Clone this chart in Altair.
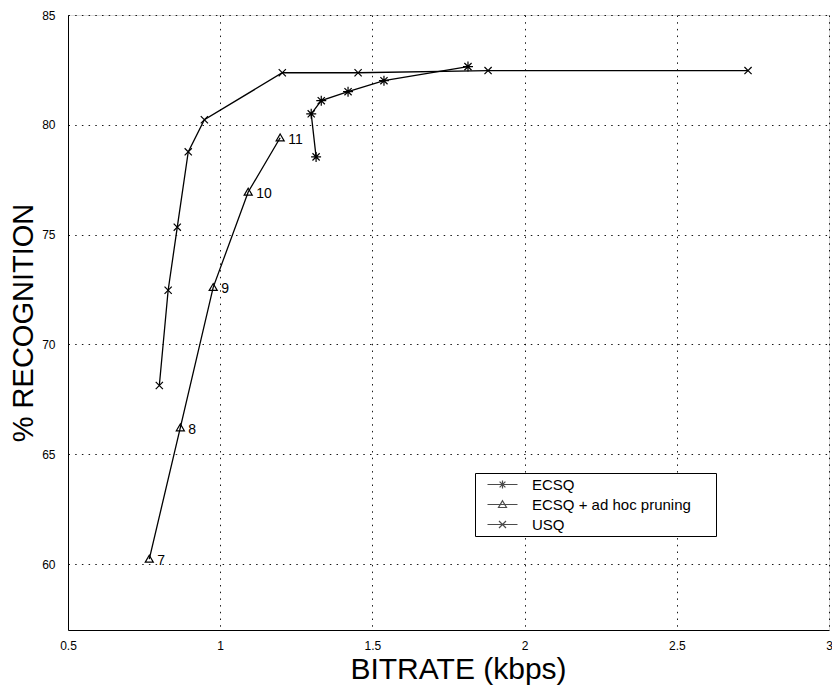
import altair as alt
import pandas as pd

# ---- data ----
ecsq_x = [1.315, 1.299, 1.332, 1.420, 1.538, 1.814]
ecsq_y = [78.54, 80.50, 81.10, 81.51, 82.01, 82.65]

prun_x = [0.767, 0.869, 0.977, 1.092, 1.197]
prun_y = [60.23, 66.21, 72.60, 76.94, 79.41]
prun_labels = ["7", "8", "9", "10", "11"]

usq_x = [0.800, 0.829, 0.859, 0.895, 0.948, 1.204, 1.453, 1.880, 2.734]
usq_y = [68.13, 72.47, 75.34, 78.77, 80.23, 82.37, 82.37, 82.47, 82.47]

series_names = ["ECSQ", "ECSQ + ad hoc pruning", "USQ"]
x_ticks = [0.5, 1, 1.5, 2, 2.5, 3]
y_ticks = [60, 65, 70, 75, 80, 85]

# marker glyphs (unit-square SVG paths) and sizes per series
marker_paths = {
    "ECSQ": "M0,-1L0,1M-1,0L1,0M-0.72,-0.72L0.72,0.72M-0.72,0.72L0.72,-0.72",
    "ECSQ + ad hoc pruning": "M0,-0.8L0.85,0.65L-0.85,0.65Z",
    "USQ": "M-0.9,-0.9L0.9,0.9M-0.9,0.9L0.9,-0.9",
}
marker_sizes = {"ECSQ": 100, "ECSQ + ad hoc pruning": 90, "USQ": 64}
# legend glyphs: the marker (slightly smaller) with a line segment through it
legend_paths = [
    "M-3,0L3,0M0,-0.8L0,0.8M-0.8,0L0.8,0M-0.58,-0.58L0.58,0.58M-0.58,0.58L0.58,-0.58",
    "M-3,0L3,0M0,-0.75L0.8,0.6L-0.8,0.6Z",
    "M-3,0L3,0M-0.7,-0.7L0.7,0.7M-0.7,0.7L0.7,-0.7",
]

rows = []
for name, xs, ys in zip(series_names, [ecsq_x, prun_x, usq_x], [ecsq_y, prun_y, usq_y]):
    for i, (xv, yv) in enumerate(zip(xs, ys)):
        rows.append({"series": name, "idx": i, "x": xv, "y": yv,
                     "path": marker_paths[name], "msize": marker_sizes[name]})
df = pd.DataFrame(rows)
lab_df = pd.DataFrame({"x": prun_x, "y": prun_y, "label": prun_labels})

FONT = "Liberation Sans Narrow, Arial Narrow, Liberation Sans, Arial"
TFONT = "Liberation Sans, Arial, Helvetica"

x_enc = alt.X("x:Q", scale=alt.Scale(domain=[0.5, 3], nice=False, zero=False),
              axis=alt.Axis(values=x_ticks, title="BITRATE (kbps)", labelExpr="format(datum.value, '~g')",
                            tickSize=0, labelPadding=10, labelFontSize=12, labelFont=FONT,
                            titleFont=TFONT, titleFontSize=30, titleFontWeight="normal",
                            titlePadding=3, titleX=390, titleColor="black", labelColor="black",
                            gridDash=[1.5, 5.2], gridColor="black", gridOpacity=0.9,
                            domainColor="black", labelFlush=False))
y_enc = alt.Y("y:Q", scale=alt.Scale(domain=[57, 85], nice=False, zero=False),
              axis=alt.Axis(values=y_ticks, title="% RECOGNITION",
                            tickSize=0, labelPadding=13, labelFontSize=12, labelFont=FONT,
                            titleFont=TFONT, titleFontSize=29, titleFontWeight="normal",
                            titlePadding=3, titleColor="black", labelColor="black",
                            gridDash=[1.5, 5.2], gridColor="black", gridOpacity=0.9,
                            domainColor="black", labelFlush=False))

lines = alt.Chart(df).mark_line(color="black", strokeWidth=1.3).encode(
    x=x_enc, y=y_enc, detail="series:N", order="idx:Q",
)

points = alt.Chart(df).mark_point(filled=False, color="black", strokeWidth=1.2, opacity=1).encode(
    x="x:Q", y="y:Q",
    shape=alt.Shape("path:N", scale=None),
    size=alt.Size("msize:Q", scale=None),
)

# legend-only layer (no data rows; entries come from the explicit scale domain)
# an invisible title placed to the right only widens the legend box
legend_layer = alt.Chart(df).transform_filter("false").mark_point(
    filled=False, color="black", strokeWidth=1.2).encode(
    x="x:Q", y="y:Q",
    shape=alt.Shape("series:N", scale=alt.Scale(domain=series_names, range=legend_paths),
                    legend=alt.Legend(orient="none", legendX=407, legendY=458,
                                      title="ww", titleOrient="right", titleOpacity=0,
                                      titleFontSize=10, titlePadding=6,
                                      symbolSize=100, symbolOffset=17, symbolStrokeColor="black",
                                      symbolFillColor="transparent", symbolStrokeWidth=1.2,
                                      clipHeight=17, rowPadding=3, padding=3,
                                      labelFont=TFONT, labelFontSize=15, labelColor="black",
                                      labelLimit=400,
                                      labelOffset=22, strokeColor="black", fillColor="white")),
)

labels = alt.Chart(lab_df).mark_text(align="left", baseline="middle", dx=8, dy=2,
                                     fontSize=14, font=TFONT, color="black").encode(
    x="x:Q", y="y:Q", text="label:N")

chart = alt.layer(lines, points, legend_layer, labels).resolve_scale(shape="independent").properties(
    width=761, height=615,
    autosize=alt.AutoSizeParams(type="none"),
    padding={"left": 60, "top": 7, "right": 3, "bottom": 60},
).configure_view(stroke="black", strokeWidth=1).configure(background="white")

chart.save("out.html", embed_options={"renderer": "svg", "actions": False})
